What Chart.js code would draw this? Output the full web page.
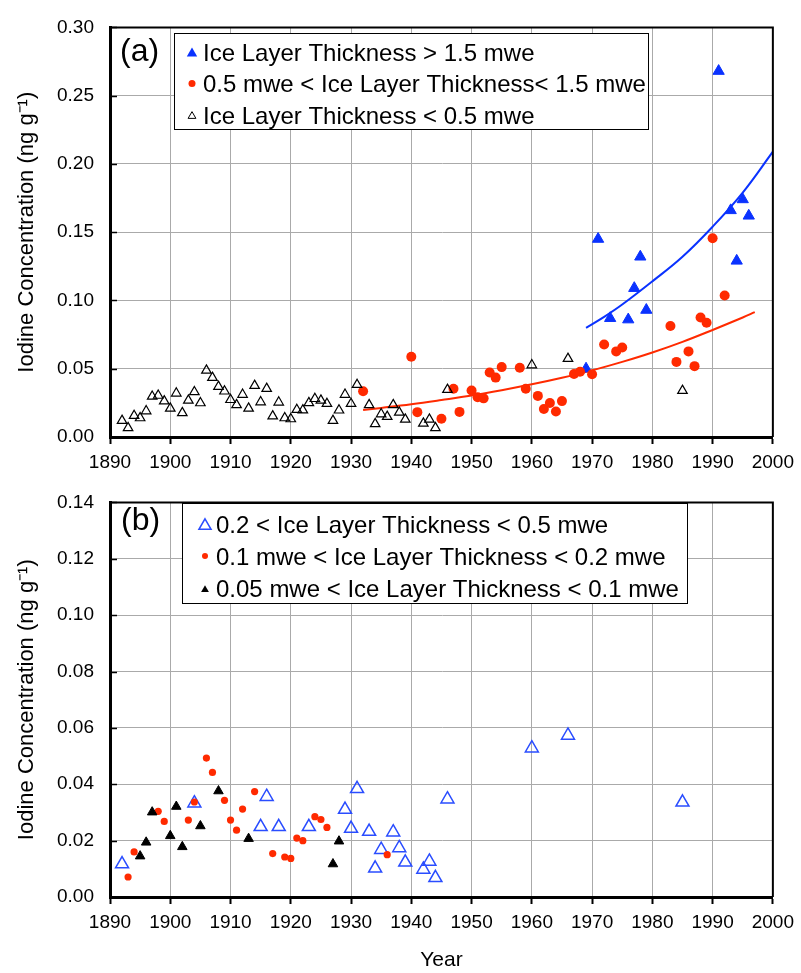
<!DOCTYPE html>
<html>
<head>
<meta charset="utf-8">
<script src="https://cdn.jsdelivr.net/npm/chart.js@4.4.0/dist/chart.umd.min.js"></script>
<style>
  body { margin: 0; background: #fff; }
  #wrap { position: relative; width: 801px; height: 973px; }
  canvas { position: absolute; left: 0; }
</style>
</head>
<body>
<div id="wrap">
  <canvas id="chart_a" width="801" height="475" style="top:0px"></canvas>
  <canvas id="chart_b" width="801" height="498" style="top:475px"></canvas>
</div>
<script>
// ---- panel (a) data ----
const aThickYears = [1969, 1971, 1973, 1976, 1977, 1978, 1979, 1991, 1993, 1994, 1995, 1996];
const aThickVals  = [0.050, 0.145, 0.087, 0.086, 0.109, 0.132, 0.093, 0.268, 0.166, 0.129, 0.174, 0.162];

const aMidYears = [1932, 1940, 1941, 1945, 1947, 1948, 1950, 1951, 1952, 1953, 1954, 1955, 1958, 1959,
  1961, 1962, 1963, 1964, 1965, 1967, 1968, 1970, 1972, 1974, 1975, 1983, 1984, 1986, 1987, 1988, 1989, 1990, 1992];
const aMidVals = [0.0335, 0.0588, 0.0182, 0.0134, 0.0354, 0.0184, 0.0340, 0.0292, 0.0283, 0.0473, 0.0435, 0.0512, 0.0507, 0.0354,
  0.0301, 0.0205, 0.0249, 0.0187, 0.0263, 0.0462, 0.0478, 0.0459, 0.0677, 0.0627, 0.0656, 0.0813, 0.0550, 0.0627, 0.0519, 0.0875, 0.0837, 0.1456, 0.1036];

const aThinYears = [1892, 1893, 1894, 1895, 1896, 1897, 1898, 1899, 1900, 1901, 1902, 1903, 1904, 1905, 1906, 1907,
  1908, 1909, 1910, 1911, 1912, 1913, 1914, 1915, 1916, 1917, 1918, 1919, 1920, 1921, 1922, 1923, 1924, 1925, 1926,
  1927, 1928, 1929, 1930, 1931, 1933, 1934, 1935, 1936, 1937, 1938, 1939, 1942, 1943, 1944, 1946, 1960, 1966, 1985];
const aThinVals = [0.012, 0.0067, 0.0156, 0.0139, 0.019, 0.0297, 0.0304, 0.0263, 0.021, 0.032, 0.0177, 0.0268, 0.033, 0.0249, 0.0488, 0.0435,
  0.0369, 0.0335, 0.0273, 0.0235, 0.0311, 0.021, 0.0376, 0.0256, 0.0354, 0.0153, 0.0254, 0.0139, 0.0132, 0.020, 0.0197, 0.025, 0.028, 0.0268, 0.0244,
  0.012, 0.0196, 0.0311, 0.0244, 0.0383, 0.0235, 0.0096, 0.0168, 0.0149, 0.0235, 0.018, 0.0129, 0.010, 0.0129, 0.0067, 0.0347, 0.0527, 0.0574, 0.034];

// trend curves
const blueTrendYears = [1969, 1972, 1975, 1980, 1985, 1990, 1995, 2000];
const blueTrendVals  = [0.080, 0.088, 0.097, 0.114, 0.132, 0.154, 0.179, 0.209];
const redTrendYears = [1932, 1935, 1940, 1945, 1950, 1955, 1960, 1965, 1970, 1975, 1980, 1985, 1990, 1995, 1997];
const redTrendVals  = [0.0198, 0.0213, 0.0240, 0.0271, 0.0304, 0.0343, 0.0386, 0.0434, 0.0488, 0.0550, 0.0619, 0.0697, 0.0784, 0.0875, 0.0914];

// ---- panel (b) data ----
const bHighYears = [1892, 1904, 1915, 1916, 1918, 1923, 1929, 1930, 1931, 1933, 1934, 1935, 1937, 1938, 1939,
  1942, 1943, 1944, 1946, 1960, 1966, 1985];
const bHighVals = [0.0117, 0.0333, 0.0249, 0.0356, 0.0249, 0.0249, 0.031, 0.0243, 0.0384, 0.0232, 0.0102, 0.0168, 0.023, 0.0174, 0.0123,
  0.0098, 0.0126, 0.0068, 0.0347, 0.0528, 0.0573, 0.0336];

const bMidYears = [1893, 1894, 1898, 1899, 1903, 1904, 1906, 1907, 1909, 1910, 1911, 1912, 1914, 1917, 1919,
  1920, 1921, 1922, 1924, 1925, 1926, 1936];
const bMidVals = [0.0071, 0.016, 0.0304, 0.0268, 0.0273, 0.0337, 0.0493, 0.0442, 0.0343, 0.0273, 0.0237, 0.0312, 0.0374, 0.0154, 0.0142,
  0.0137, 0.0209, 0.020, 0.0285, 0.0275, 0.0247, 0.015];

const bLowYears = [1895, 1896, 1897, 1900, 1901, 1902, 1905, 1908, 1913, 1927, 1928];
const bLowVals  = [0.0145, 0.0194, 0.0301, 0.0217, 0.0321, 0.0178, 0.0252, 0.0376, 0.0207, 0.0117, 0.0198];

const yearTicksMin = 1890;
const yearTicksMax = 2000;

const FONT = '"Liberation Sans", Arial, sans-serif';
const BLUE = '#0a32ff';
const RED = '#ff2a00';

function pts(xs, ys) {
  return xs.map((x, i) => ({x: x, y: ys[i]}));
}

function drawMark(ctx, style, x, y, r, fill, stroke, lw) {
  ctx.beginPath();
  if (style === 'circle') {
    ctx.arc(x, y, r, 0, Math.PI * 2);
  } else {
    const h = r * 1.5, w = r * Math.sqrt(3);
    ctx.moveTo(x, y - h / 2);
    ctx.lineTo(x + w / 2, y + h / 2);
    ctx.lineTo(x - w / 2, y + h / 2);
    ctx.closePath();
  }
  if (fill) { ctx.fillStyle = fill; ctx.fill(); }
  if (stroke) { ctx.strokeStyle = stroke; ctx.lineWidth = lw; ctx.stroke(); }
}

// frame, inward y ticks, panel tag and boxed legend
const decorPlugin = {
  id: 'decor',
  afterDraw(chart, args, opts) {
    const ctx = chart.ctx;
    const a = chart.chartArea;
    const ys = chart.scales.y;
    ctx.save();
    ctx.strokeStyle = '#000';
    ctx.lineWidth = 1.5;
    ys.ticks.forEach(t => {
      const py = Math.round(ys.getPixelForValue(t.value)) + 0.5;
      ctx.beginPath();
      ctx.moveTo(a.left, py);
      ctx.lineTo(a.left + 7, py);
      ctx.stroke();
    });
    ctx.lineWidth = 2;
    ctx.beginPath();
    ctx.moveTo(a.left, a.top);
    ctx.lineTo(a.right, a.top);
    ctx.lineTo(a.right, a.bottom);
    ctx.stroke();

    ctx.fillStyle = '#000';
    ctx.textBaseline = 'alphabetic';
    ctx.textAlign = 'left';
    ctx.font = '32px ' + FONT;
    ctx.fillText(opts.tag, opts.tagX, opts.tagY);

    const b = opts.box;
    ctx.fillStyle = '#fff';
    ctx.fillRect(b.x, b.y, b.w, b.h);
    ctx.lineWidth = 1;
    ctx.strokeStyle = '#000';
    ctx.strokeRect(b.x + 0.5, b.y + 0.5, b.w, b.h);
    ctx.font = opts.fontSize + 'px ' + FONT;
    opts.items.forEach((it, i) => {
      const ds = chart.data.datasets[it.ds];
      const cy = b.rowY[i];
      drawMark(ctx, it.style, b.markX, cy, it.r, it.fill, it.stroke, it.lw);
      ctx.fillStyle = '#000';
      ctx.fillText(ds.label, b.textX, cy + opts.fontSize * 0.36);
    });
    ctx.restore();
  }
};

function makeOptions(cfg) {
  return {
    responsive: false,
    animation: false,
    events: [],
    layout: { padding: { top: cfg.top, right: cfg.right, left: 0, bottom: 0 } },
    plugins: {
      legend: { display: false },
      tooltip: { enabled: false },
      decor: cfg.decor
    },
    scales: {
      x: {
        type: 'linear',
        min: yearTicksMin,
        max: yearTicksMax,
        ticks: {
          stepSize: 10,
          color: '#000',
          font: { family: FONT, size: 19 },
          padding: 7,
          maxRotation: 0,
          autoSkip: false,
          callback: v => String(v)
        },
        grid: { color: '#aaaaaa', lineWidth: 1, tickColor: '#000', tickLength: 7, tickWidth: 2 },
        border: { color: '#000', width: 3 },
        title: {
          display: cfg.showYear,
          text: 'Year',
          color: '#000',
          font: { family: FONT, size: 21 },
          padding: { top: 0, bottom: 0 }
        },
        afterFit: s => { s.height = cfg.xHeight; }
      },
      y: {
        min: 0,
        max: cfg.yMax,
        ticks: {
          stepSize: cfg.yStep,
          color: '#000',
          font: { family: FONT, size: 19 },
          padding: 16,
          callback: v => v.toFixed(2)
        },
        grid: { color: '#aaaaaa', lineWidth: 1, drawTicks: false },
        border: { color: '#000', width: 3 },
        title: {
          display: true,
          text: 'Iodine Concentration (ng g\u207B\u00B9)',
          color: '#000',
          font: { family: FONT, size: 22 },
          padding: { top: 14, bottom: 0 }
        },
        afterFit: s => { s.width = 110; }
      }
    }
  };
}

new Chart(document.getElementById('chart_a'), {
  type: 'scatter',
  data: {
    datasets: [
      {
        label: 'Ice Layer Thickness > 1.5 mwe',
        data: pts(aThickYears, aThickVals),
        pointStyle: 'triangle', pointRadius: 6.5,
        backgroundColor: BLUE, borderColor: BLUE, borderWidth: 1,
        order: 3
      },
      {
        label: '0.5 mwe < Ice Layer Thickness< 1.5 mwe',
        data: pts(aMidYears, aMidVals),
        pointStyle: 'circle', pointRadius: 5,
        backgroundColor: RED, borderColor: RED, borderWidth: 0,
        order: 2
      },
      {
        label: 'Ice Layer Thickness < 0.5 mwe',
        data: pts(aThinYears, aThinVals),
        pointStyle: 'triangle', pointRadius: 5.5,
        backgroundColor: 'rgba(0,0,0,0)', borderColor: '#000', borderWidth: 1.2,
        order: 1
      },
      {
        label: '',
        data: pts(blueTrendYears, blueTrendVals),
        showLine: true, tension: 0.4, pointRadius: 0,
        borderColor: BLUE, borderWidth: 2, fill: false,
        order: 4
      },
      {
        label: '',
        data: pts(redTrendYears, redTrendVals),
        showLine: true, tension: 0.4, pointRadius: 0,
        borderColor: RED, borderWidth: 2, fill: false,
        order: 5
      }
    ]
  },
  options: makeOptions({
    top: 19, right: 25, xHeight: 38, showYear: false, yMax: 0.30, yStep: 0.05,
    decor: {
      tag: '(a)', tagX: 120, tagY: 61,
      fontSize: 24,
      box: { x: 174, y: 33, w: 474, h: 96, markX: 192, textX: 203, rowY: [52, 83.5, 115] },
      items: [
        { ds: 0, style: 'triangle', r: 6, fill: BLUE, stroke: null, lw: 0 },
        { ds: 1, style: 'circle', r: 3.5, fill: RED, stroke: null, lw: 0 },
        { ds: 2, style: 'triangle', r: 4.5, fill: null, stroke: '#000', lw: 1 }
      ]
    }
  }),
  plugins: [decorPlugin]
});

new Chart(document.getElementById('chart_b'), {
  type: 'scatter',
  data: {
    datasets: [
      {
        label: '0.2 < Ice Layer Thickness < 0.5 mwe',
        data: pts(bHighYears, bHighVals),
        pointStyle: 'triangle', pointRadius: 7.5,
        backgroundColor: 'rgba(0,0,0,0)', borderColor: '#2a4dff', borderWidth: 1.5,
        order: 3
      },
      {
        label: '0.1 mwe < Ice Layer Thickness < 0.2 mwe',
        data: pts(bMidYears, bMidVals),
        pointStyle: 'circle', pointRadius: 3.6,
        backgroundColor: RED, borderColor: RED, borderWidth: 0,
        order: 2
      },
      {
        label: '0.05 mwe < Ice Layer Thickness < 0.1 mwe',
        data: pts(bLowYears, bLowVals),
        pointStyle: 'triangle', pointRadius: 5.5,
        backgroundColor: '#000', borderColor: '#000', borderWidth: 1,
        order: 1
      }
    ]
  },
  options: makeOptions({
    top: 16, right: 22, xHeight: 76, showYear: true, yMax: 0.14, yStep: 0.02,
    decor: {
      tag: '(b)', tagX: 121, tagY: 55,
      fontSize: 24,
      box: { x: 182, y: 28, w: 505, h: 100, markX: 205, textX: 216, rowY: [49, 81, 113.5] },
      items: [
        { ds: 0, style: 'triangle', r: 7, fill: null, stroke: '#2a4dff', lw: 1.5 },
        { ds: 1, style: 'circle', r: 3, fill: RED, stroke: null, lw: 0 },
        { ds: 2, style: 'triangle', r: 4.5, fill: '#000', stroke: null, lw: 0 }
      ]
    }
  }),
  plugins: [decorPlugin]
});
</script>
</body>
</html>
